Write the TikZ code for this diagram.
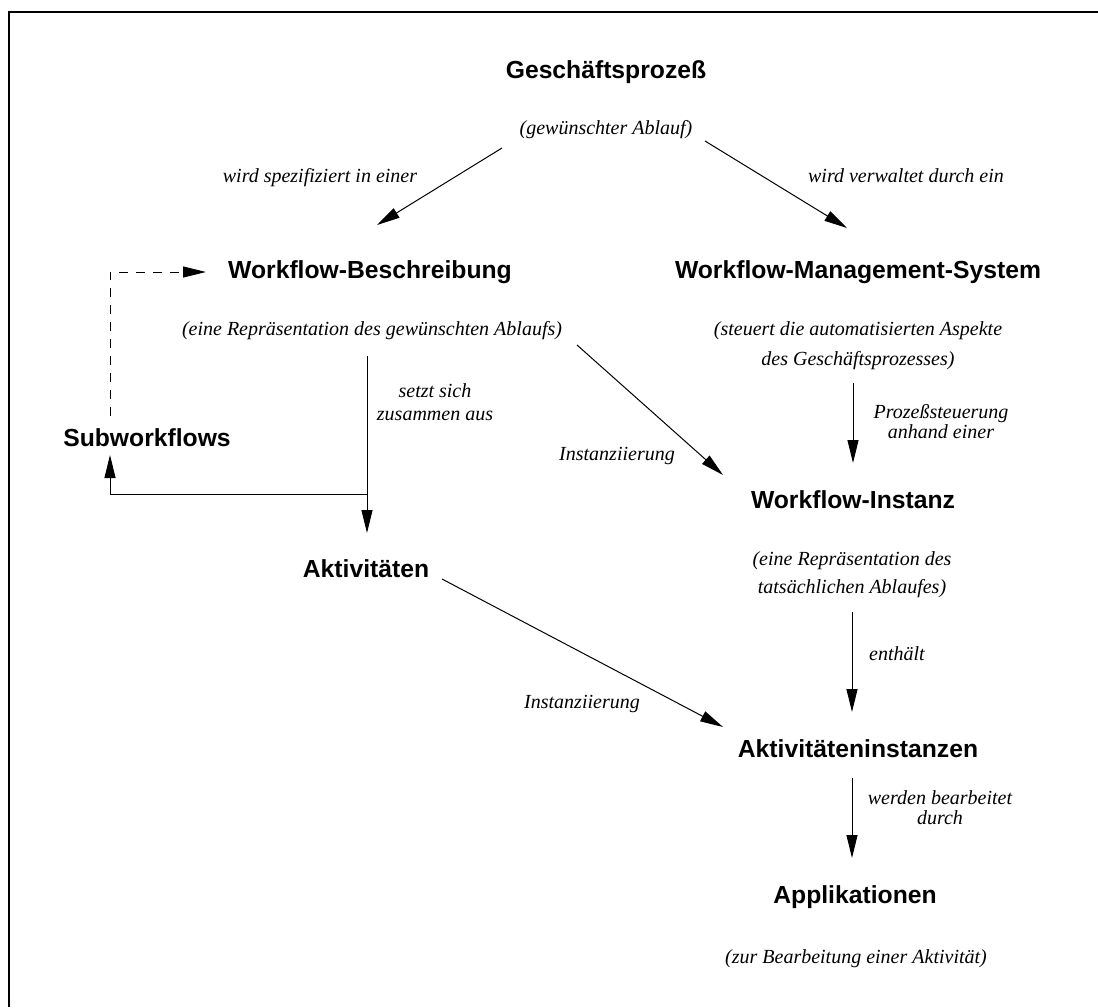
\documentclass[tikz,border=0pt]{standalone}
\usepackage{fontspec}
\setmainfont{Liberation Serif}
\newfontfamily\headfont{Liberation Sans}
\usetikzlibrary{arrows.meta}
\newcommand{\twolines}[2]{\begin{tabular}[t]{@{}c@{}}#1\\#2\end{tabular}}
\begin{document}
\begin{tikzpicture}[x=1pt,y=-1pt,
  title/.style={font=\headfont\bfseries\fontsize{24.7}{28}\selectfont, inner sep=0pt, anchor=base},
  note/.style={font=\itshape\fontsize{20}{24}\selectfont, inner sep=0pt, anchor=base},
  arr/.style={line width=1pt, -{Triangle[length=23pt,width=11pt]}},
  dasharr/.style={arr, dash pattern=on 9pt off 8pt}]
\useasboundingbox (0,0) rectangle (1098,1007);
% frame
\draw[line width=2pt] (9,1007) -- (9,12) -- (1098,12);

% concepts
\node[title] (gp)  at (606,78)  {Geschäftsprozeß};
\node[note]  (gpd) at (606,134) {(gewünschter Ablauf)};
\node[title] (wb)  at (370,278) {Workflow-Beschreibung};
\node[note]  (wbd) at (372,335) {(eine Repräsentation des gewünschten Ablaufs)};
\node[title] (wms) at (858,278) {Workflow-Management-System};
\node[note, font=\itshape\fontsize{20}{30}\selectfont] (wmsd) at (858,335)
  {\twolines{(steuert die automatisierten Aspekte}{des Geschäftsprozesses)}};
\node[title] (sub) at (147,446) {Subworkflows};
\node[title] (akt) at (366,577) {Aktivitäten};
\node[title] (wi)  at (853,508) {Workflow-Instanz};
\node[note, font=\itshape\fontsize{20}{28}\selectfont] (wid) at (852,565)
  {\twolines{(eine Repräsentation des}{tatsächlichen Ablaufes)}};
\node[title] (ai)  at (858,757) {Aktivitäteninstanzen};
\node[title] (app) at (855,903) {Applikationen};
\node[note]  (appd) at (856,963) {(zur Bearbeitung einer Aktivität)};

% connector labels
\node[note] (lspec) at (320,182) {wird spezifiziert in einer};
\node[note] (lverw) at (906,182) {wird verwaltet durch ein};
\node[note, font=\itshape\fontsize{20}{23}\selectfont] (lsetzt) at (435,397)
  {\twolines{setzt sich}{zusammen aus}};
\node[note] (linsta) at (617,460) {Instanziierung};
\node[note, font=\itshape\fontsize{20}{20}\selectfont] (lproz) at (941,418)
  {\twolines{Prozeßsteuerung}{anhand einer}};
\node[note] (lenth) at (897,660) {enthält};
\node[note] (linstb) at (582,708) {Instanziierung};
\node[note, font=\itshape\fontsize{20}{20}\selectfont] (lwerd) at (940,804)
  {\twolines{werden bearbeitet}{durch}};

% connectors
\draw[arr] ([shift={(-104,14)}]gpd.base) -- ([shift={(7,-53)}]wb.base);
\draw[arr] ([shift={(99,7)}]gpd.base) -- ([shift={(-11,-50)}]wms.base);
\draw[arr] ([shift={(-5,21)}]wbd.base) -- ([shift={(1,-44)}]akt.base);
\coordinate (split) at (367,494);
\draw[arr] (split) -| ([shift={(-37,9)}]sub.base);
\draw[dasharr] ([shift={(-37,-30)}]sub.base) |- ([shift={(-164,-6)}]wb.base);
\draw[arr] ([shift={(205,10)}]wbd.base) -- ([shift={(-130,-33)}]wi.base);
\draw[arr] ([shift={(-5,48)}]wmsd.base) -- ([shift={(0,-45)}]wi.base);
\draw[arr] ([shift={(76,2)}]akt.base) -- ([shift={(-135,-30)}]ai.base);
\draw[arr] ([shift={(0,47)}]wid.base) -- ([shift={(-6,-45)}]ai.base);
\draw[arr] ([shift={(-6,21)}]ai.base) -- ([shift={(-3,-45)}]app.base);
\end{tikzpicture}
\end{document}
